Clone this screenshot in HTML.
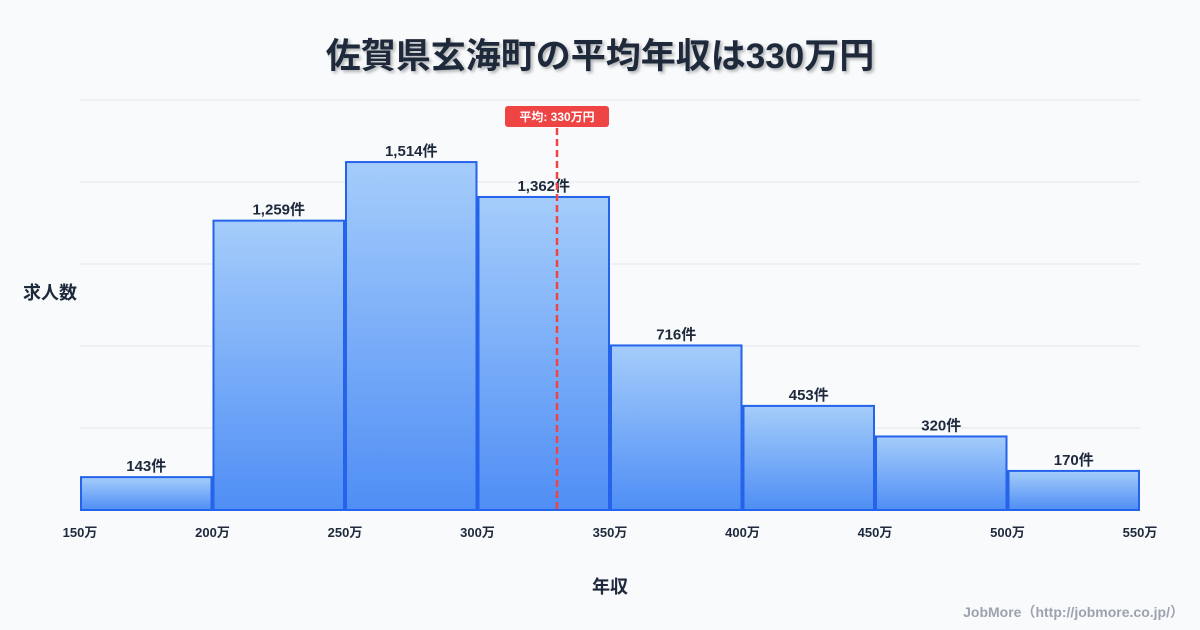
<!DOCTYPE html>
<html><head><meta charset="utf-8"><style>
body{margin:0;background:#f8fafc;font-family:"Liberation Sans","Noto Sans CJK JP",sans-serif;}
#wrap{position:relative;width:1200px;height:630px;overflow:hidden;background:#f8fafc}
h1{position:absolute;top:28px;left:0;width:1200px;text-align:center;margin:0;font-size:35px;font-weight:bold;color:#1e293b;text-shadow:2px 2px 3px rgba(0,0,0,0.3)}
.footer{position:absolute;right:16px;top:602px;font-size:14px;color:#9ca3af;font-weight:bold}
</style></head><body>
<div id="wrap">
<h1>佐賀県玄海町の平均年収は330万円</h1>
<svg id="chart" width="1200" height="630" style="position:absolute;left:0;top:0">
<defs><linearGradient id="g" x1="0" y1="0" x2="0" y2="1"><stop offset="0" stop-color="#a5cdfb"/><stop offset="1" stop-color="#4f8ef5"/></linearGradient></defs>
</svg>
<div class="footer">JobMore（http://jobmore.co.jp/）</div>
</div>
<script>
const binStarts=[150,200,250,300,350,400,450,500];
const counts=[143,1259,1514,1362,716,453,320,170];
const tickValues=[150,200,250,300,350,400,450,500,550];
const average=330;
const yMax=1784;
const svg=document.getElementById('chart');
const NS='http://www.w3.org/2000/svg';
const X0=80,X1=1140,Y0=510,Y1=100;
const xs=v=>X0+(v-150)/(550-150)*(X1-X0);
const ys=v=>Y0-v/yMax*(Y0-Y1);
function mk(t,a,txt){const e=document.createElementNS(NS,t);for(const k in a)e.setAttribute(k,a[k]);if(txt!==undefined)e.textContent=txt;svg.appendChild(e);return e;}
for(let i=0;i<=5;i++){const y=Y0-i*(Y0-Y1)/5;
const g=mk('line',{x1:X0,x2:X1,y1:y,y2:y,stroke:'#e5e7eb','stroke-width':1});

}
binStarts.forEach((b,i)=>{
const x=xs(b)+1,w=xs(b+50)-xs(b)-2,y=ys(counts[i]);
const r=mk('rect',{x:x,y:y,width:w,height:Y0-y,fill:'url(#g)',stroke:'#2563eb','stroke-width':2});


const t=mk('text',{x:x+w/2,y:y-6,'text-anchor':'middle','font-size':15,'font-weight':'bold',fill:'#1e293b'},counts[i].toLocaleString('en-US')+'件');


});
tickValues.forEach(v=>{
const t=mk('text',{x:xs(v),y:537,'text-anchor':'middle','font-size':13,'font-weight':'bold',fill:'#1e293b'},v+'万');


});
const ax=xs(average);
const al=mk('line',{x1:ax,x2:ax,y1:128,y2:Y0,stroke:'#ef4444','stroke-width':2.5,'stroke-dasharray':'7,4'});


const ab=mk('rect',{x:ax-52,y:106,width:104,height:21,rx:3,fill:'#ef4444'});


const at=mk('text',{x:ax,y:121,'text-anchor':'middle','font-size':12,'font-weight':'bold',fill:'#fff'},'平均: '+average+'万円');


const yt=mk('text',{x:50,y:299,'text-anchor':'middle','font-size':18,'font-weight':'bold',fill:'#1e293b'},'求人数');


const xt=mk('text',{x:610,y:593,'text-anchor':'middle','font-size':18,'font-weight':'bold',fill:'#1e293b'},'年収');


</script>
</body></html>
